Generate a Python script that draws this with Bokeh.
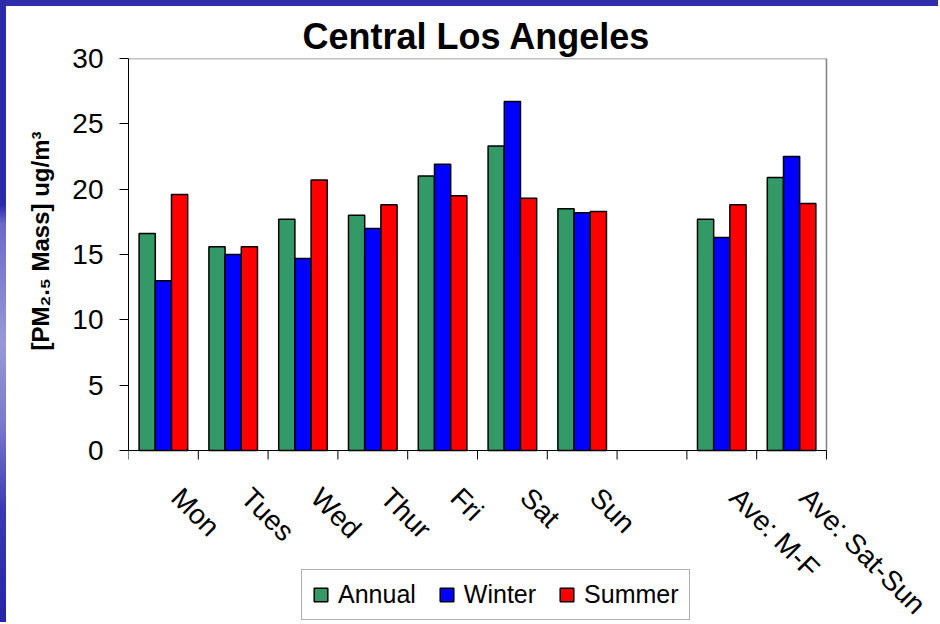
import math
from bokeh.plotting import figure
from bokeh.models import (FixedTicker, Legend, LegendItem, Range1d, Spacer, Title)
from bokeh.core.properties import value
from bokeh.layouts import row, column
from bokeh.embed import file_html
from bokeh.resources import INLINE

# ---- data ----
categories = ["Mon", "Tues", "Wed", "Thur", "Fri", "Sat", "Sun", "", "Ave: M-F", "Ave: Sat-Sun"]
series_names = ["Annual", "Winter", "Summer"]
annual = [16.6, 15.6, 17.7, 18.0, 21.0, 23.3, 18.5, None, 17.7, 20.9]
winter = [13.0, 15.0, 14.7, 17.0, 21.9, 26.7, 18.2, None, 16.3, 22.5]
summer = [19.6, 15.6, 20.7, 18.8, 19.5, 19.3, 18.3, None, 18.8, 18.9]
y_ticks = [0, 5, 10, 15, 20, 25, 30]
y_label = "[PM\u2082.\u2085 Mass] ug/m\u00b3"

# ---- style / layout constants ----
colors = ["#339966", "#0000FF", "#FF0000"]
FONT = "Liberation Sans"
BAR_W = 0.232
Y_MAX = 30
Y_MIN = -13.16          # room under the axis for the category labels and legend
X_MAX = 11.605          # room right of the plot area for the long labels
LABEL_DX = 0.34
LABEL_DY = -2.4
TICK_LEN = 0.69
FRAME_W, FRAME_H = 810, 564
MB_LEFT, MB_TOP, MB_RIGHT, MB_BOTTOM = 122, 52, 0, 0
FIG_W = MB_LEFT + FRAME_W + MB_RIGHT
FIG_H = MB_TOP + FRAME_H + MB_BOTTOM

n = len(categories)
p = figure(frame_width=FRAME_W, frame_height=FRAME_H,
           x_range=Range1d(0, X_MAX), y_range=Range1d(Y_MIN, Y_MAX),
           output_backend="svg", toolbar_location=None,
           min_border_left=MB_LEFT, min_border_top=MB_TOP,
           min_border_right=MB_RIGHT, min_border_bottom=MB_BOTTOM,
           title="Central Los Angeles")

p.background_fill_color = "white"
p.border_fill_color = "white"
p.outline_line_color = None
p.xgrid.visible = False
p.ygrid.visible = False
p.xaxis.visible = False

p.title.text_font = FONT
p.title.text_font_size = "36px"
p.title.text_font_style = "bold"
p.title.text_color = "black"
p.title.align = "left"
p.title.offset = 174
p.title.standoff = 3

# plot-area border (top / right, grey)
p.segment(x0=[0, n], y0=[Y_MAX, 0], x1=[n, n], y1=[Y_MAX, Y_MAX],
          line_color="#808080", line_width=1.5)

series = [annual, winter, summer]
renderers = []
for j, vals in enumerate(series):
    off = (j - 1) * BAR_W
    xs = [i + 0.5 + off for i, v in enumerate(vals) if v is not None]
    tops = [v for v in vals if v is not None]
    r = p.vbar(x=xs, top=tops, bottom=0, width=BAR_W,
               fill_color=colors[j], line_color="black", line_width=1.5)
    renderers.append(r)

# category axis: line, boundary ticks, rotated labels
p.segment(x0=[0], y0=[0], x1=[n], y1=[0], line_color="black", line_width=1)
bounds = list(range(n + 1))
p.segment(x0=bounds, y0=[0] * len(bounds), x1=bounds, y1=[-TICK_LEN] * len(bounds),
          line_color="black", line_width=1)
p.text(x=[i + 0.5 + LABEL_DX for i in range(n)], y=[LABEL_DY] * n, text=categories,
       angle=-math.pi / 4, text_align="left", text_baseline="top",
       text_font=value(FONT), text_font_size="28px", text_color="black")

# y axis
p.yaxis.bounds = (0, Y_MAX)
p.yaxis.ticker = FixedTicker(ticks=y_ticks)
p.yaxis.major_tick_out = 9
p.yaxis.major_tick_in = 0
p.yaxis.minor_tick_out = 0
p.yaxis.minor_tick_in = 0
p.yaxis.major_tick_line_color = "black"
p.yaxis.axis_line_color = "black"
p.yaxis.major_label_standoff = 16
p.yaxis.major_label_text_font = FONT
p.yaxis.major_label_text_font_size = "28px"
p.yaxis.major_label_text_color = "black"

# y axis title, centred on the 0-30 span (not on the whole frame)
ytitle = Title(text=y_label, align="left", offset=272, standoff=32,
               vertical_align="bottom", text_font=FONT, text_font_size="24px",
               text_font_style="bold", text_color="black")
p.add_layout(ytitle, "left")

legend = Legend(items=[LegendItem(label=nm, renderers=[r]) for nm, r in zip(series_names, renderers)],
                orientation="horizontal", location=(173, 2))
legend.label_text_font = FONT
legend.label_text_font_size = "25px"
legend.label_text_color = "black"
legend.glyph_width = 17
legend.glyph_height = 17
legend.label_standoff = 9
legend.spacing = 22
legend.padding = 10
legend.margin = 0
legend.border_line_color = "#606060"
legend.border_line_width = 1.5
legend.background_fill_color = "white"
legend.background_fill_alpha = 1.0
p.add_layout(legend)

left_strip = Spacer(width=6, height=6 + FIG_H, styles={
    "background": "linear-gradient(to bottom, #2B2BA8 0%, #2B2BA8 33%, #6A6AC6 36%, #9898D8 55%, #7A7ACC 68%, #3A3AB0 82%, #2424A8 100%)"})
top_strip = Spacer(width=FIG_W, height=6, styles={"background": "#2E2EAA"})
layout = row(left_strip, column(top_strip, p))

open("out.html", "w").write(file_html(layout, INLINE))
